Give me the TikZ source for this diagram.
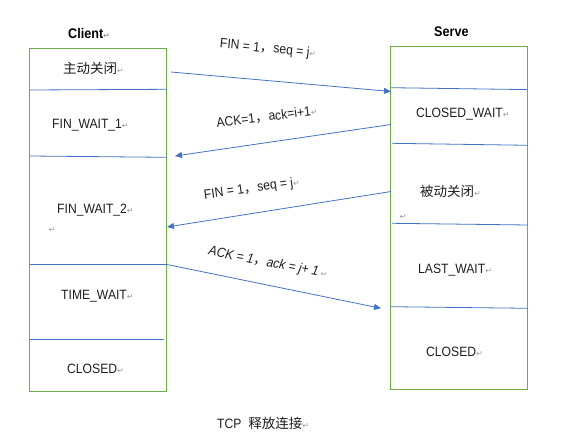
\documentclass[tikz,border=0pt]{standalone}
\usepackage{fontspec}
\setmainfont{Liberation Sans}[FakeStretch=0.9]
\newfontfamily\cjk{Noto Sans CJK SC}
\newfontfamily\dejavu{DejaVu Sans}
\usetikzlibrary{arrows.meta}
\definecolor{boxgreen}{RGB}{112,173,71}
\definecolor{lineblue}{RGB}{68,114,196}
\definecolor{txt}{RGB}{30,30,30}
\newcommand\retmk{{\color{gray!80}\dejavu\fontsize{8pt}{9pt}\selectfont ↵}}
\begin{document}
\begin{tikzpicture}[x=1pt,y=-1pt,
  lane/.style={draw=boxgreen, line width=0.9pt},
  sep/.style={draw=lineblue, line width=0.8pt},
  msg/.style={draw=lineblue, line width=0.8pt, -{Triangle[length=7pt,width=6pt]}},
  st/.style={inner sep=0pt, anchor=west, text=txt, font=\fontsize{13.5pt}{15pt}\selectfont},
  ttl/.style={inner sep=0pt, anchor=west, text=black, font=\fontsize{14pt}{16pt}\selectfont\bfseries},
  lbl/.style={inner sep=0pt, text=txt, font=\fontsize{13.5pt}{15pt}\selectfont},
  mk/.style={inner sep=0pt}]
\useasboundingbox (0,0) rectangle (565,447);
% lanes
\draw[lane] (29,48) rectangle (166,391);
\draw[lane] (390.5,46) rectangle (527,389);
% client separators
\draw[sep] (30,90) -- (167,89.3);
\draw[sep] (30,156) -- (167,157.3);
\draw[sep] (30,264) -- (166,264);
\draw[sep] (30,339.3) -- (164,339.3);
% server separators
\draw[sep] (391,87.7) -- (527,89.6);
\draw[sep] (392,143.3) -- (528,145.3);
\draw[sep] (392,223.3) -- (528,225);
\draw[sep] (391,306.7) -- (528,308.3);
% titles
\node[ttl] (tclient) at (68,33) {Client\retmk};
\node[ttl] (tserve) at (434,32) {Serve};
% client states
\node[st] (c1) at (63,68) {{\cjk 主动关闭}\retmk};
\node[st] (c2) at (52,125) {FIN\_WAIT\_1\retmk};
\node[st] (c3) at (57,210) {FIN\_WAIT\_2\retmk};
\node[mk] (c3m) at (52,230) {\retmk};
\node[st] (c4) at (61,296) {TIME\_WAIT\retmk};
\node[st] (c5) at (67,369) {CLOSED\retmk};
% server states
\node[st] (s2) at (416,114) {CLOSED\_WAIT\retmk};
\node[st] (s3) at (420,191) {{\cjk 被动关闭}\retmk};
\node[mk] (s3m) at (403,217) {\retmk};
\node[st] (s4) at (418,270) {LAST\_WAIT\retmk};
\node[st] (s5) at (426,352) {CLOSED\retmk};
% message endpoints
\coordinate (a1s) at (171,72);
\coordinate (a1e) at (391,91.5);
\coordinate (a2s) at (391,124.5);
\coordinate (a2e) at (175,156);
\coordinate (a3s) at (391,191.5);
\coordinate (a3e) at (167,227);
\coordinate (a4s) at (166,264.3);
\coordinate (a4e) at (381,308.3);
\draw[msg] (a1s) -- (a1e);
\draw[msg] (a2s) -- (a2e);
\draw[msg] (a3s) -- (a3e);
\draw[msg] (a4s) -- (a4e);
% message labels
\node[lbl, rotate=-5.5] (l1) at (268,49) {FIN = 1{\cjk ，}seq = j\retmk};
\node[lbl, rotate=7] (l2) at (267,117) {ACK=1{\cjk ，}ack=i+1\retmk};
\node[lbl, rotate=8] (l3) at (252,189) {FIN = 1{\cjk ，}seq = j\retmk};
\node[lbl, rotate=-11, font=\fontsize{13.5pt}{15pt}\selectfont\itshape] (l4) at (268,263) {ACK = 1{\cjk ，}ack = j+ 1\/\,\retmk};
% caption
\node[st] (cap) at (217,423) {TCP\ \ {\cjk 释放连接}\retmk};
\end{tikzpicture}
\end{document}
